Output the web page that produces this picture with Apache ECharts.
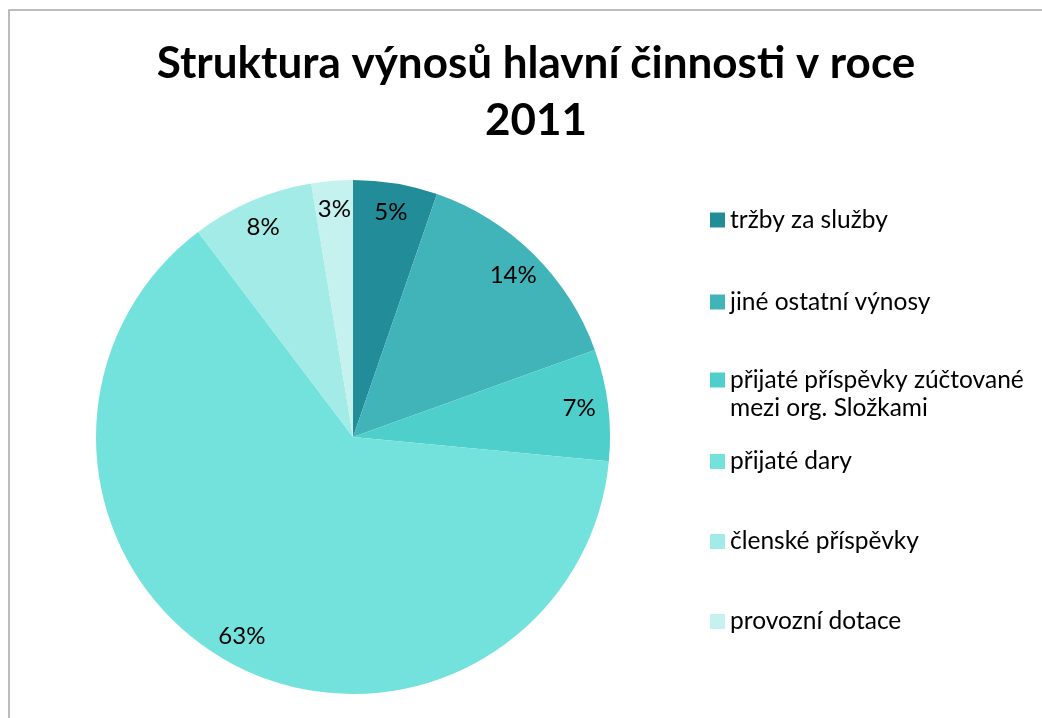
<!DOCTYPE html>
<html>
<head>
<meta charset="utf-8">
<script src="https://cdn.jsdelivr.net/npm/echarts@6/dist/echarts.min.js"></script>
<style>
html,body{margin:0;padding:0;background:#fff;}
#chart{width:1042px;height:718px;}
</style>
</head>
<body>
<div id="chart"></div>
<script>
const titleText = 'Struktura výnosů hlavní činnosti v roce\n2011';
const categories = ['tržby za služby', 'jiné ostatní výnosy', 'přijaté příspěvky zúčtované mezi org. Složkami', 'přijaté dary', 'členské příspěvky', 'provozní dotace'];
const legendLabels = ['tržby za služby', 'jiné ostatní výnosy', 'přijaté příspěvky zúčtované\nmezi org. Složkami', 'přijaté dary', 'členské příspěvky', 'provozní dotace'];
const values = [5.3, 14.2, 7.0, 63.2, 7.7, 2.6];
const colors = ['#238C99', '#40B4B9', '#4ECFCB', '#74E2DC', '#A2EBE6', '#C5F1EF'];

const FONT = 'Lato, "Open Sans", sans-serif';
const pieData = categories.map((c, i) => ({ name: c, value: values[i], itemStyle: { color: colors[i] } }));

const legendCenters = [220, 302, 380, 461.5, 541.5, 621.5];
const legends = categories.map((c, i) => {
  const multi = legendLabels[i].indexOf('\n') >= 0;
  return {
    data: [c],
    orient: 'vertical',
    left: 710,
    top: multi ? legendCenters[i] - 42 : legendCenters[i] - 14,
    padding: 0,
    icon: 'rect',
    itemWidth: 15,
    itemHeight: 15,
    selectedMode: false,
    formatter: () => (multi ? '\n' : '') + legendLabels[i],
    textStyle: { fontFamily: FONT, fontSize: 24.5, color: '#000', lineHeight: 28 }
  };
});

const chart = echarts.init(document.getElementById('chart'), null, { renderer: 'canvas' });
chart.setOption({
  animation: false,
  backgroundColor: '#fff',
  color: colors,
  title: {
    text: titleText,
    left: 531,
    top: 30,
    textAlign: 'center',
    textStyle: { fontFamily: FONT, fontWeight: 'bold', fontSize: 44, color: '#000', lineHeight: 57 }
  },
  graphic: [{
    type: 'rect',
    shape: { x: 9, y: 10, width: 1200, height: 900 },
    style: { fill: 'none', stroke: '#a6a6a6', lineWidth: 1.5 },
    silent: true,
    z: 100
  }],
  legend: legends,
  series: [{
    type: 'pie',
    center: [353, 437],
    radius: [0, 257],
    startAngle: 90,
    clockwise: true,
    label: { show: false },
    labelLine: { show: false },
    emphasis: { disabled: true },
    silent: true,
    data: pieData
  }, {
    type: 'pie',
    center: [353, 437],
    radius: [193, 257],
    startAngle: 90,
    clockwise: true,
    silent: true,
    avoidLabelOverlap: false,
    emphasis: { disabled: true },
    itemStyle: { color: 'rgba(0,0,0,0)' },
    label: {
      show: true,
      position: 'inside',
      fontFamily: FONT,
      fontSize: 24,
      color: '#000',
      formatter: p => Math.round(p.percent) + '%'
    },
    labelLine: { show: false },
    data: categories.map((c, i) => ({ name: c, value: values[i] }))
  }]
});
</script>
</body>
</html>
